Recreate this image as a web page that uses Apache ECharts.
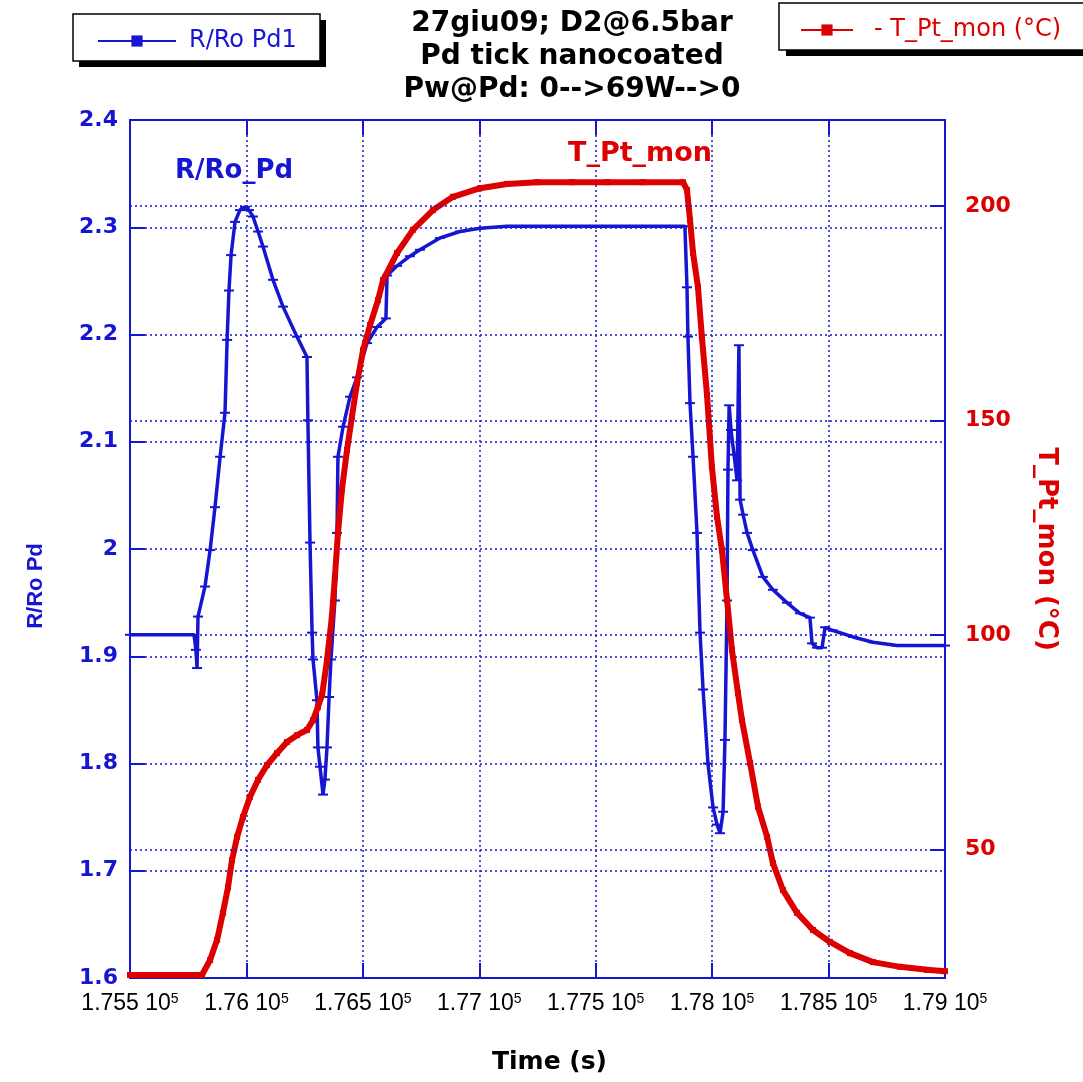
<!DOCTYPE html>
<html><head><meta charset="utf-8">
<script src="https://cdn.jsdelivr.net/npm/echarts@6/dist/echarts.min.js"></script>
<style>html,body{margin:0;padding:0;background:#fff}#c{width:1083px;height:1082px}</style>
</head><body><div id="c"></div>
<script>
// ---- data (time in s) ----
const ratioTime = [175500,175600,175700,175775,175783,175788,175792,175822,175844,175865,175887,175908,175917,175925,175934,175951,175972,175994,176011,176028,176050,176071,176114,176157,176217,176260,176264,176273,176282,176286,176303,176307,176316,176329,176337,176346,176355,176363,176380,176389,176393,176415,176445,176475,176518,176561,176599,176604,176647,176702,176745,176831,176917,177003,177119,177250,177400,177550,177700,177883,177892,177896,177905,177918,177935,177948,177961,177982,178004,178021,178034,178047,178055,178064,178068,178073,178081,178094,178107,178115,178120,178133,178150,178175,178218,178261,178321,178377,178420,178429,178450,178472,178485,178519,178605,178691,178794,178900,179000];
const ratioPd = [1.920,1.920,1.920,1.920,1.906,1.889,1.937,1.965,1.999,2.039,2.086,2.127,2.195,2.241,2.274,2.305,2.316,2.319,2.316,2.310,2.296,2.282,2.251,2.226,2.198,2.179,2.120,2.006,1.922,1.897,1.859,1.815,1.797,1.771,1.785,1.815,1.862,1.897,1.952,2.015,2.086,2.114,2.142,2.160,2.192,2.207,2.215,2.255,2.264,2.273,2.279,2.290,2.296,2.299,2.301,2.301,2.301,2.301,2.301,2.301,2.244,2.198,2.136,2.086,2.015,1.922,1.869,1.800,1.759,1.743,1.735,1.755,1.822,1.952,2.074,2.134,2.111,2.088,2.064,2.190,2.046,2.032,2.015,1.999,1.974,1.962,1.950,1.940,1.936,1.912,1.908,1.908,1.927,1.924,1.918,1.913,1.910,1.910,1.910];

const tempTime = [175500,175600,175700,175809,175844,175874,175899,175921,175938,175960,175985,176015,176050,176088,176131,176174,176217,176260,176286,176307,176325,176346,176367,176380,176393,176410,176432,176453,176475,176501,176531,176565,176587,176647,176715,176801,176887,177003,177119,177248,177400,177550,177700,177875,177892,177905,177918,177939,177956,177978,177999,178021,178042,178064,178085,178111,178128,178163,178197,178236,178261,178304,178364,178433,178506,178592,178691,178807,178923,179000];
const tempPt = [20.7,20.7,20.7,20.7,24.2,28.9,35.2,41.2,47.5,52.9,57.5,62.2,66.2,69.6,72.4,75.0,76.6,77.8,80.1,83.2,86.0,94.1,104.2,113.5,123.7,133.8,143.1,150.8,158.7,166.4,172.2,178.0,182.7,189.0,194.4,199.0,202.1,204.1,205.1,205.5,205.5,205.5,205.5,205.5,203.7,196.7,189.0,181.1,169.4,155.9,139.1,127.5,119.8,108.1,96.5,86.4,80.1,70.1,59.9,52.9,46.8,40.5,35.2,31.2,28.4,25.8,23.7,22.6,21.9,21.6];

const xTickValues = [175500,176000,176500,177000,177500,178000,178500,179000];
const xTickLabels = ['1.755','1.76','1.765','1.77','1.775','1.78','1.785','1.79'];
const tempTickValues = [50,100,150,200];

const titleLines = ['27giu09; D2@6.5bar','Pd tick nanocoated','Pw@Pd: 0-->69W-->0'];

// ---- styles ----
const BLUE = '#1616d2';
const RED = '#dd0000';
const FONT = 'DejaVu Sans';

const chart = echarts.init(document.getElementById('c'), null, {renderer:'canvas'});
const zip = (a,b) => a.map((v,i)=>[v,b[i]]);
const dotted = {color: BLUE, width: 1.5, type: [2, 3]};

chart.setOption({
  animation: false,
  backgroundColor: '#ffffff',
  title: {
    text: titleLines.join('\n'),
    left: 567, top: 2, textAlign: 'center',
    textStyle: {fontFamily: FONT, fontWeight: 'bold', fontSize: 28, lineHeight: 33, color: '#000'}
  },
  grid: {left: 130, right: 138, top: 120, bottom: 104, show: true, borderColor: BLUE, borderWidth: 2, backgroundColor: 'transparent'},
  legend: [
    {data: ['R/Ro Pd1'], left: 92, top: 24, itemWidth: 78, itemHeight: 14, z: 10,
     textStyle: {color: BLUE, fontFamily: FONT, fontSize: 24, padding: [0,0,0,8]}},
    {data: ['T_Pt_mon (°C)'], left: 795, top: 13, itemWidth: 52, itemHeight: 14, z: 10,
     formatter: n => '- ' + n,
     textStyle: {color: RED, fontFamily: FONT, fontSize: 24, padding: [0,0,0,16]}}
  ],
  graphic: [
    {type: 'rect', z: 5, shape: {x: 79, y: 20, width: 247, height: 47}, style: {fill: '#000'}},
    {type: 'rect', z: 6, shape: {x: 73, y: 14, width: 247, height: 47}, style: {fill: '#fff', stroke: '#000', lineWidth: 1.5}},
    {type: 'rect', z: 5, shape: {x: 786, y: 9, width: 320, height: 47}, style: {fill: '#000'}},
    {type: 'rect', z: 6, shape: {x: 779, y: 3, width: 320, height: 47}, style: {fill: '#fff', stroke: '#000', lineWidth: 1.5}},
    {type: 'text', z: 20, left: 175, top: 158, style: {text: 'R/Ro_Pd', fill: BLUE, font: 'bold 26px "DejaVu Sans"'}},
    {type: 'text', z: 20, left: 568, top: 140, style: {text: 'T_Pt_mon', fill: RED, font: 'bold 27px "DejaVu Sans"'}},
    {type: 'text', z: 20, x: 36, y: 586, rotation: Math.PI / 2,
     style: {text: 'R/Ro Pd', fill: BLUE, font: 'bold 22px "Liberation Sans"', align: 'center', verticalAlign: 'middle'}}
  ],
  xAxis: [
    {type: 'value', min: 175500, max: 179000, interval: 500, position: 'bottom',
     axisLine: {show: true, lineStyle: {color: BLUE, width: 2}},
     axisTick: {show: true, inside: true, length: 15, lineStyle: {color: BLUE, width: 2}},
     axisLabel: {margin: 14, color: '#000',
       formatter: v => { const i = xTickValues.findIndex(t => Math.abs(t - v) < 1); return '{m|' + (i >= 0 ? xTickLabels[i] : '') + ' 10}{e|5}'; },
       rich: {m: {fontFamily: 'Liberation Sans', fontSize: 23, color: '#000'}, e: {fontFamily: 'Liberation Sans', fontSize: 14, color: '#000', verticalAlign: 'top'}}},
     splitLine: {show: true, lineStyle: dotted},
     name: 'Time (s)', nameLocation: 'middle', nameGap: 72,
     nameTextStyle: {fontFamily: FONT, fontWeight: 'bold', fontSize: 25, color: '#000', padding: [0, 0, 0, 24]}},
    {type: 'value', min: 175500, max: 179000, interval: 500, position: 'top',
     axisLine: {show: true, lineStyle: {color: BLUE, width: 2}},
     axisTick: {show: true, inside: true, length: 15, lineStyle: {color: BLUE, width: 2}},
     axisLabel: {show: false}, splitLine: {show: false}}
  ],
  yAxis: [
    {type: 'value', min: 1.6, max: 2.4, interval: 0.1, position: 'left',
     axisLine: {show: true, lineStyle: {color: BLUE, width: 2}},
     axisTick: {show: true, inside: true, length: 15, lineStyle: {color: BLUE, width: 2}},
     axisLabel: {margin: 12, color: BLUE, fontFamily: FONT, fontWeight: 'bold', fontSize: 22},
     splitLine: {show: true, lineStyle: dotted}},
    {type: 'value', min: 20, max: 220, position: 'right',
     axisLine: {show: true, lineStyle: {color: BLUE, width: 2}},
     axisTick: {show: true, inside: true, length: 15, customValues: tempTickValues, lineStyle: {color: BLUE, width: 2}},
     axisLabel: {margin: 20, color: RED, fontFamily: FONT, fontWeight: 'bold', fontSize: 22, customValues: tempTickValues},
     splitLine: {show: false},
     name: 'T_Pt_mon (°C)', nameLocation: 'middle', nameGap: 88, nameRotate: -90,
     nameTextStyle: {fontFamily: FONT, fontWeight: 'bold', fontSize: 26, color: RED}}
  ],
  series: [
    {name: 'R/Ro Pd1', type: 'line', xAxisIndex: 0, yAxisIndex: 0, data: zip(ratioTime, ratioPd),
     symbol: 'rect', symbolSize: [10, 2], showSymbol: true, showAllSymbol: true,
     itemStyle: {color: BLUE}, lineStyle: {color: BLUE, width: 3.5}, z: 3},
    {name: 'T_Pt_mon (°C)', type: 'line', xAxisIndex: 0, yAxisIndex: 1, data: zip(tempTime, tempPt),
     symbol: 'rect', symbolSize: 6, showSymbol: true, showAllSymbol: true,
     itemStyle: {color: RED}, lineStyle: {color: RED, width: 6}, z: 4,
     markLine: {silent: true, symbol: 'none', label: {show: false}, lineStyle: dotted,
       data: tempTickValues.map(v => ({yAxis: v}))}}
  ]
});
</script></body></html>
